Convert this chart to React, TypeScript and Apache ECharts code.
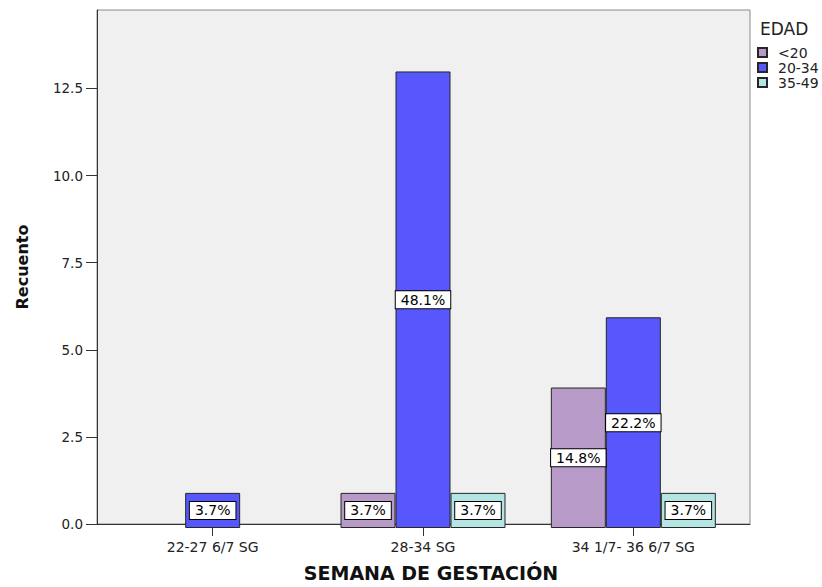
import React, { useEffect, useRef } from "react";
import * as echarts from "echarts";

const categories = ["22-27 6/7 SG", "28-34 SG", "34 1/7- 36 6/7 SG"];
const seriesNames = ["<20", "20-34", "35-49"];
const countsUnder20: (number | null)[] = [null, 1, 4];
const counts20to34: (number | null)[] = [1, 13, 6];
const counts35to49: (number | null)[] = [null, 1, 1];
const pctUnder20: (number | null)[] = [null, 3.7, 14.8];
const pct20to34: (number | null)[] = [3.7, 48.1, 22.2];
const pct35to49: (number | null)[] = [null, 3.7, 3.7];
const yTicks = [0, 2.5, 5, 7.5, 10, 12.5];
const yMax = 14.75;
const legendTitle = "EDAD";
const xTitle = "SEMANA DE GESTACIÓN";
const yTitle = "Recuento";

const FONT = "DejaVu Sans";

function makeSeries(name: string, data: (number | null)[], pct: (number | null)[], color: string) {
  return {
    name,
    type: "bar",
    xAxisIndex: 1,
    yAxisIndex: 1,
    data,
    barWidth: 55,
    barGap: "0%",
    itemStyle: { color, borderColor: "#262626", borderWidth: 1 },
    label: {
      show: true,
      position: "inside",
      formatter: (p: any) => {
        const v = pct[p.dataIndex];
        return v == null ? "" : v.toFixed(1) + "%";
      },
      color: "#000",
      fontSize: 14,
      fontFamily: FONT,
      backgroundColor: "#fff",
      borderColor: "#000",
      borderWidth: 1,
      padding: [2, 5, 1, 5],
    },
    emphasis: { disabled: true },
  };
}

export default function App() {
  const ref = useRef<HTMLDivElement>(null);
  useEffect(() => {
    if (!ref.current) return;
    const chart = echarts.init(ref.current, undefined, { renderer: "svg" });
    chart.setOption({
      animation: false,
      textStyle: { fontFamily: FONT },
      grid: [
        { left: 97, right: 72, top: 10, bottom: 59, show: true, backgroundColor: "#f0f0f0", borderColor: "#8a8a8a", borderWidth: 1 },
        { left: 107.5, right: 83.5, top: 10, bottom: 59 },
      ],
      xAxis: [
        {
          gridIndex: 0,
          type: "value",
          min: 0,
          max: 1,
          axisLine: { show: true, lineStyle: { color: "#333", width: 1 } },
          axisTick: { show: false },
          axisLabel: { show: false },
          splitLine: { show: false },
          name: xTitle,
          nameLocation: "middle",
          nameGap: 39,
          nameTextStyle: { fontWeight: "bold", fontSize: 19, color: "#111", fontFamily: FONT, padding: [0, 0, 0, 15] },
        },
        {
          gridIndex: 1,
          type: "category",
          data: categories,
          axisLine: { show: false },
          axisTick: { show: true, alignWithLabel: true, length: 8, lineStyle: { color: "#333" } },
          axisLabel: { margin: 12, fontSize: 14, color: "#222", fontFamily: FONT, interval: 0 },
          splitLine: { show: false },
        },
      ],
      yAxis: [
        {
          gridIndex: 0,
          type: "value",
          min: 0,
          max: yMax,
          axisLine: { show: true, lineStyle: { color: "#333", width: 1 } },
          axisTick: { show: true, length: 11, customValues: yTicks, lineStyle: { color: "#333" } },
          axisLabel: {
            customValues: yTicks,
            formatter: (v: number) => v.toFixed(1),
            margin: 14,
            fontSize: 13.5,
            color: "#222",
            fontFamily: FONT,
          },
          splitLine: { show: false },
          name: yTitle,
          nameLocation: "middle",
          nameGap: 67,
          nameRotate: 90,
          nameTextStyle: { fontWeight: "bold", fontSize: 16, color: "#111", fontFamily: FONT },
        },
        { gridIndex: 1, type: "value", min: 0, max: yMax, show: false },
      ],
      legend: {
        orient: "vertical",
        left: 757,
        top: 45.5,
        padding: 0,
        itemGap: 1,
        itemWidth: 9,
        itemHeight: 9,
        icon: "rect",
        selectedMode: false,
        data: seriesNames,
        textStyle: { fontSize: 14, color: "#222", fontFamily: FONT, padding: [0, 0, 0, 6] },
      },
      graphic: [
        {
          type: "text",
          left: 760,
          top: 20,
          style: { text: legendTitle, fontSize: 17, fill: "#222", fontFamily: FONT },
        },
      ],
      series: [
        makeSeries(seriesNames[0], countsUnder20, pctUnder20, "#b89ac8"),
        makeSeries(seriesNames[1], counts20to34, pct20to34, "#5757fb"),
        makeSeries(seriesNames[2], counts35to49, pct35to49, "#b3e5e3"),
      ],
    });
    return () => chart.dispose();
  }, []);
  return <div ref={ref} style={{ width: 822, height: 587, position: "absolute", left: 0, top: 0 }} />;
}
